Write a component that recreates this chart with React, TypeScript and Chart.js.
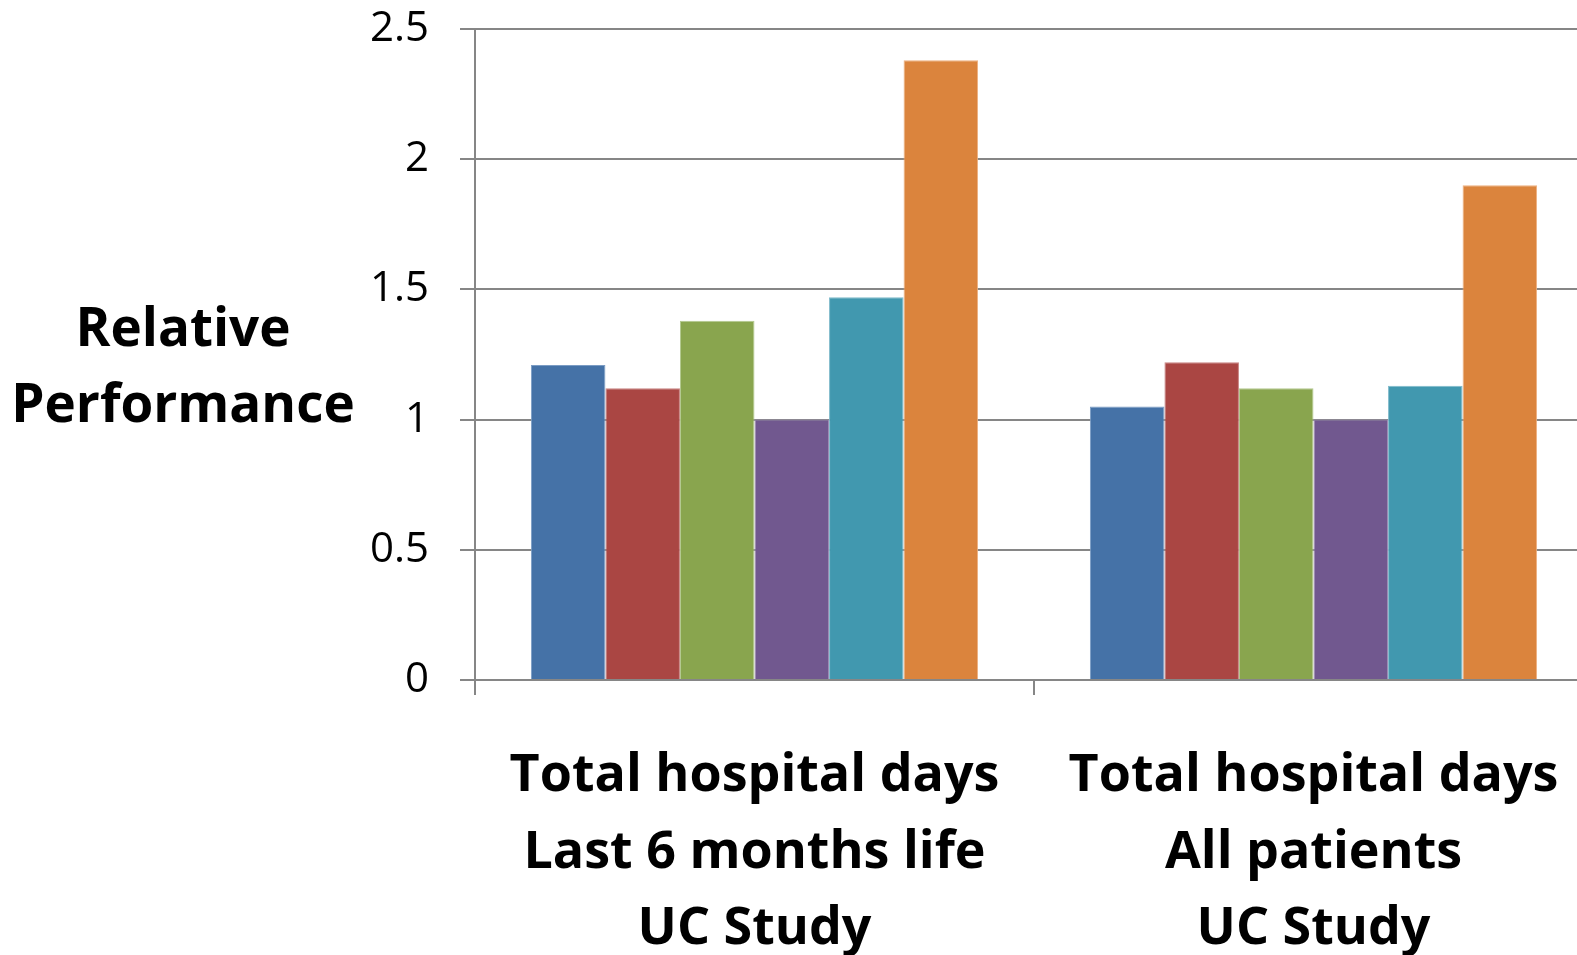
import React, { useEffect, useRef } from 'react';
import { Chart, registerables } from 'chart.js';

Chart.register(...registerables);

// Category labels (one entry per line)
const categories: string[][] = [
  ['Total hospital days', 'Last 6 months life', 'UC Study'],
  ['Total hospital days', 'All patients', 'UC Study'],
];

const seriesNames = ['Series 1', 'Series 2', 'Series 3', 'Series 4', 'Series 5', 'Series 6'];

const series1 = [1.21, 1.05];
const series2 = [1.12, 1.22];
const series3 = [1.38, 1.12];
const series4 = [1.0, 1.0];
const series5 = [1.47, 1.13];
const series6 = [2.38, 1.9];

const seriesColors = ['#4572A7', '#AA4643', '#89A54E', '#71588F', '#4198AF', '#DB843D'];
const seriesEdges = ['#7B9CC4', '#C88482', '#B3C98E', '#9C8AB3', '#7FBACB', '#EDB080'];

const yTicks = [0, 0.5, 1, 1.5, 2, 2.5];
const yTitleLines = ['Relative', 'Performance'];

const FONT = '"Open Sans", Lato, sans-serif';
const AXIS_GRAY = '#868686';

// Horizontal two-line axis title to the left of the value axis
const yTitlePlugin = {
  id: 'yTitleLines',
  afterDraw(chart: any) {
    const { ctx } = chart;
    ctx.save();
    ctx.font = `bold 53px ${FONT}`;
    ctx.fillStyle = '#000';
    ctx.textAlign = 'center';
    ctx.textBaseline = 'alphabetic';
    yTitleLines.forEach((line, i) => {
      ctx.fillText(line, 183, 346 + i * 76);
    });
    ctx.restore();
  },
};

export default function App() {
  const canvasRef = useRef<HTMLCanvasElement | null>(null);

  useEffect(() => {
    if (!canvasRef.current) return;
    const values = [series1, series2, series3, series4, series5, series6];
    const chart = new Chart(canvasRef.current, {
      type: 'bar',
      data: {
        labels: categories,
        datasets: values.map((v, i) => ({
          label: seriesNames[i],
          data: v,
          backgroundColor: seriesColors[i],
          borderColor: seriesEdges[i],
          borderWidth: 1,
          categoryPercentage: 0.8,
          barPercentage: 1,
        })),
      },
      options: {
        animation: false,
        responsive: false,
        maintainAspectRatio: false,
        layout: { padding: { top: 29, right: 27, left: 0, bottom: 0 } },
        plugins: {
          legend: { display: false },
          tooltip: { enabled: false },
          title: { display: false },
        },
        scales: {
          x: {
            offset: true,
            grid: {
              display: true,
              offset: true,
              drawOnChartArea: false,
              drawTicks: true,
              tickLength: 15,
              color: AXIS_GRAY,
              lineWidth: 2,
            },
            border: { display: true, color: AXIS_GRAY, width: 2 },
            ticks: {
              color: '#000',
              padding: 43,
              maxRotation: 0,
              autoSkip: false,
              font: { family: FONT, size: 52, weight: 'bold', lineHeight: 76.5 / 52 },
            },
            afterFit: (scale: any) => {
              scale.height = 955 - 680;
              scale.paddingLeft = 0;
              scale.paddingRight = 0;
            },
          },
          y: {
            min: 0,
            max: 2.5,
            afterBuildTicks: (scale: any) => {
              scale.ticks = yTicks.map((v) => ({ value: v }));
            },
            grid: {
              color: AXIS_GRAY,
              lineWidth: 2,
              drawTicks: true,
              tickLength: 15,
            },
            border: { display: true, color: AXIS_GRAY, width: 2 },
            ticks: {
              color: '#000',
              padding: 31,
              font: { family: FONT, size: 42 },
              callback: (v: any) => String(v),
            },
            afterFit: (scale: any) => {
              scale.width = 475;
              scale.paddingTop = 0;
              scale.paddingBottom = 0;
            },
          },
        },
      },
      plugins: [yTitlePlugin],
    });
    return () => chart.destroy();
  }, []);

  return (
    <div style={{ position: 'fixed', inset: 0, overflow: 'hidden', background: '#fff' }}>
      <div style={{ width: 1620, height: 955 }}>
        <canvas ref={canvasRef} width={1620} height={955} style={{ display: 'block' }} />
      </div>
    </div>
  );
}
